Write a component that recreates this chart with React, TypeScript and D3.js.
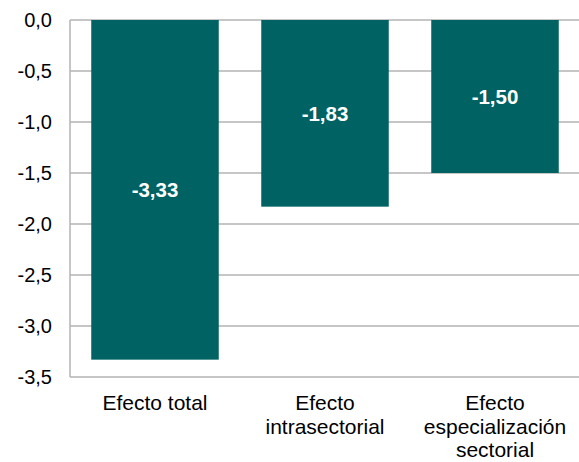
import React from "react";
import * as d3 from "d3";

const categories: string[][] = [
  ["Efecto total"],
  ["Efecto", "intrasectorial"],
  ["Efecto", "especialización", "sectorial"],
];
const values: number[] = [-3.33, -1.83, -1.5];
const yTicks: number[] = [0, -0.5, -1, -1.5, -2, -2.5, -3, -3.5];

const W = 579;
const H = 462;
const left = 70;
const right = 580;
const top = 20;
const bottom = 377;

const fmt = (v: number, d: number) => v.toFixed(d).replace(".", ",");

export default function App() {
  const x = d3
    .scaleBand<number>()
    .domain(values.map((_, i) => i))
    .range([left, right])
    .paddingInner(0.25)
    .paddingOuter(0.125);
  const y = d3.scaleLinear().domain([0, -3.5]).range([top, bottom]);
  const font = "'Liberation Sans', Arial, sans-serif";
  const color = "#006262";
  const grid = "#b3b3b3";

  return (
    <svg
      width={W}
      height={H}
      style={{ position: "absolute", left: 0, top: 0, background: "#fff" }}
      fontFamily={font}
    >
      {yTicks.map((t) => (
        <line
          key={"g" + t}
          x1={left}
          x2={W}
          y1={y(t)}
          y2={y(t)}
          stroke={grid}
          strokeWidth={1.5}
        />
      ))}
      <line x1={left} x2={left} y1={top} y2={bottom} stroke={grid} strokeWidth={1.5} />
      {yTicks.map((t) => (
        <text
          key={"t" + t}
          x={52}
          y={y(t)}
          dy="0.35em"
          textAnchor="end"
          fontSize={20}
          fill="#000"
        >
          {fmt(t, 1)}
        </text>
      ))}
      {values.map((v, i) => (
        <rect
          key={"b" + i}
          x={x(i)!}
          y={y(0)}
          width={x.bandwidth()}
          height={y(v) - y(0)}
          fill={color}
        />
      ))}
      {values.map((v, i) => (
        <text
          key={"v" + i}
          x={x(i)! + x.bandwidth() / 2}
          y={(y(0) + y(v)) / 2}
          dy="0.35em"
          textAnchor="middle"
          fontSize={20.5}
          fontWeight="bold"
          fill="#fff"
        >
          {fmt(v, 2)}
        </text>
      ))}
      {categories.map((lines, i) => (
        <text
          key={"c" + i}
          x={x(i)! + x.bandwidth() / 2}
          y={410}
          textAnchor="middle"
          fontSize={21}
          fill="#000"
        >
          {lines.map((l, j) => (
            <tspan key={j} x={x(i)! + x.bandwidth() / 2} dy={j === 0 ? 0 : 23.5}>
              {l}
            </tspan>
          ))}
        </text>
      ))}
    </svg>
  );
}
